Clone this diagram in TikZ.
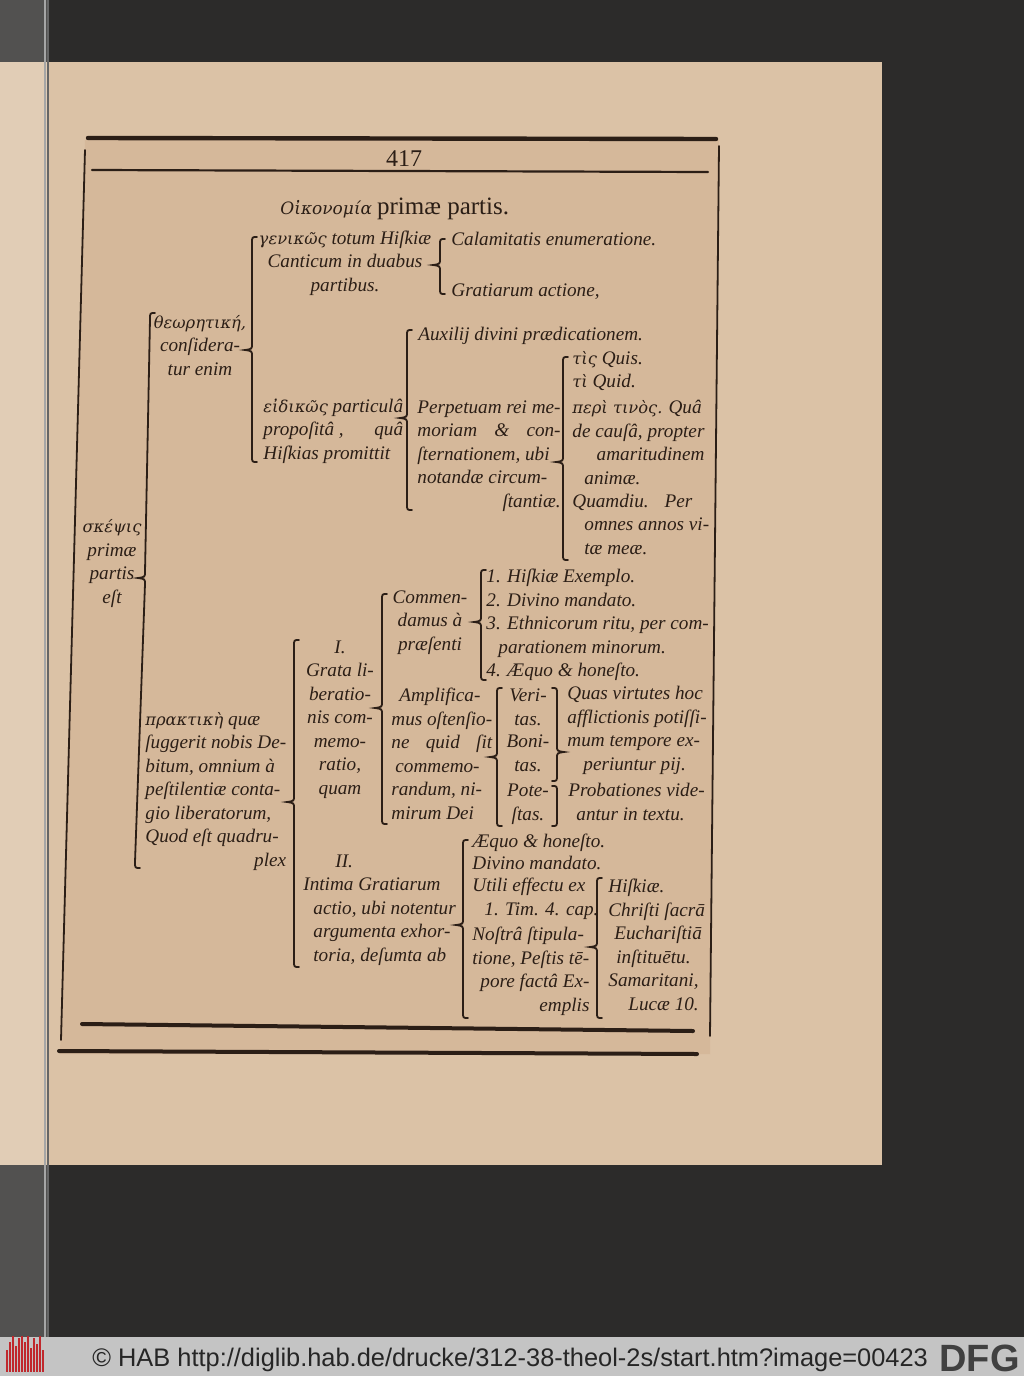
\documentclass[tikz,border=0pt]{standalone}
\usepackage{fontspec}
\setmainfont{Liberation Serif}
\newfontfamily\grk{DejaVu Serif}[Scale=0.85]
\newfontfamily\footsans{Liberation Sans}

\definecolor{inkc}{HTML}{2B1E16}
\definecolor{pagec}{HTML}{DBC2A6}
\definecolor{pagein}{HTML}{D3B596}
\definecolor{bgc}{HTML}{2C2B2A}
\definecolor{barc}{HTML}{C4C4C4}
\definecolor{habc}{HTML}{C0282D}
\definecolor{dfgc}{HTML}{404040}

% multi-line nodes sit on the baseline of their last line
\tikzset{
  ink/.style={draw=inkc, line width=0.9pt, line cap=round},
  lbl/.style={font=\fontsize{9.6}{11.75}\selectfont\itshape, text=inkc, inner sep=0pt, anchor=base west, align=left},
  clbl/.style={lbl, anchor=base, align=center}
}

% curly brace, tip to the left: x, top, tip, bottom
\newcommand{\lbrc}[4]{%
  \draw[ink] (#1+5,#2) .. controls (#1,#2) .. (#1,#2+6) -- (#1,#3-6)
    .. controls (#1,#3-1) .. (#1-7,#3) .. controls (#1,#3+1) .. (#1,#3+6)
    -- (#1,#4-6) .. controls (#1,#4) .. (#1+5,#4);}
% curly brace, tip to the right
\newcommand{\rbrc}[4]{%
  \draw[ink] (#1-5,#2) .. controls (#1,#2) .. (#1,#2+6) -- (#1,#3-6)
    .. controls (#1,#3-1) .. (#1+7,#3) .. controls (#1,#3+1) .. (#1,#3+6)
    -- (#1,#4-6) .. controls (#1,#4) .. (#1-5,#4);}
% plain bracket, open to the left
\newcommand{\rbkt}[3]{%
  \draw[ink] (#1-5,#2) .. controls (#1,#2) .. (#1,#2+6) -- (#1,#3-6)
    .. controls (#1,#3) .. (#1-5,#3);}

\begin{document}
\begin{tikzpicture}[x=0.5pt,y=-0.5pt]
\useasboundingbox (0,0) rectangle (1024,1376);

% scan surroundings
\fill[bgc] (0,0) rectangle (1024,1337);
\fill[pagec] (0,62) rectangle (882,1165);
\fill[pagein, opacity=0.7] (85,140) -- (719,140) -- (710,1054) -- (60,1054) -- cycle;
\fill[white, opacity=0.18] (0,0) rectangle (47,1337);
\draw[gray!70, line width=1pt] (45,0) -- (45,1337);
\draw[black!60, line width=0.6pt] (48,0) -- (48,1337);
\fill[barc] (0,1337) rectangle (1024,1376);

% printed frame
\draw[ink, line width=2.2pt] (88,138) -- (716,139);
\draw[ink, line width=1.1pt] (92,170) -- (708,172);
\draw[ink] (85,150) -- (61,1040);
\draw[ink] (719,146) -- (710,1036);
\draw[ink, line width=2pt] (82,1024) -- (693,1031);
\draw[ink, line width=2pt] (59,1051) -- (697,1054);

\node[inner sep=0pt, anchor=base, text=inkc, font=\fontsize{12}{12}\selectfont] (pg) at (404,166) {417};
\node[inner sep=0pt, anchor=base west, text=inkc] (title) at (280,214)
  {{\fontsize{10}{10}\selectfont\grk\itshape Οἰκονομία} {\fontsize{12.5}{12.5}\selectfont primæ partis.}};

% first level
\node[clbl] (sk) at (112,603) {{\grk σκέψις}\\primæ\\partis\\eſt};
\draw[ink] (155,313) .. controls (150,313) .. (150,319) -- (145,572)
  .. controls (145,577) .. (138,578) .. controls (145,579) .. (145,584)
  -- (135,862) .. controls (135,868) .. (140,868);

% theoretica
\node[clbl] (theo) at (200,375) {{\grk θεωρητική,}\\conſidera-\\tur enim};
\lbrc{252}{237}{350}{462}
\node[clbl] (gen) at (345,291) {{\grk γενικῶς} totum Hiſkiæ\\Canticum in duabus\\partibus.};
\lbrc{440}{239}{265}{294}
\node[lbl] (cal) at (451,245) {Calamitatis enumeratione.};
\node[lbl] (grat) at (451,296) {Gratiarum actione,};

\node[lbl] (eid) at (263,459) {{\grk εἰδικῶς} particulâ\\propoſitâ ,\hfill quâ\\Hiſkias promittit};
\lbrc{407}{330}{418}{510}
\node[lbl] (aux) at (418,340) {Auxilij divini prædicationem.};
\node[lbl] (perp) at (417,507) {Perpetuam rei me-\\moriam\hfill \&\hfill con-\\ſternationem, ubi\\notandæ circum-\\\hfill ſtantiæ.\hfill};
\lbrc{563}{357}{462}{560}
\node[lbl] (quis) at (572,364) {{\grk τὶς} Quis.};
\node[lbl] (quid) at (572,387) {{\grk τὶ} Quid.};
\node[lbl] (peri) at (572,484) {{\grk περὶ τινὸς.}\hspace{3pt}\hfill Quâ\\de cauſâ, propter\\\hfill amaritudinem\hfill\\\hspace*{6pt}animæ.};
\node[lbl] (quam) at (572,554) {Quamdiu.\hspace{8pt}\hfill Per\\\hspace*{6pt}omnes annos vi-\\\hspace*{6pt}tæ meæ.};

% practica
\node[lbl] (prak) at (145,866) {{\grk πρακτικὴ} quæ\\ſuggerit nobis De-\\bitum, omnium à\\peſtilentiæ conta-\\gio liberatorum,\\Quod eſt quadru-\\\hfill plex\hfill};
\lbrc{294}{640}{802}{967}

\node[clbl] (gl) at (340,794) {I.\\Grata li-\\beratio-\\nis com-\\memo-\\ratio,\\quam};
\lbrc{382}{594}{708}{824}
\node[clbl] (com) at (430,650) {Commen-\\damus à\\præſenti};
\lbrc{481}{570}{622}{680}
\node[lbl] (c1) at (486,582) {1. Hiſkiæ Exemplo.};
\node[lbl] (c2) at (486,606) {2. Divino mandato.};
\node[lbl] (c3) at (486,653) {3. Ethnicorum ritu, per com-\\\hspace*{6pt}parationem minorum.};
\node[lbl] (c4) at (486,676) {4. Æquo \& honeſto.};

\node[lbl] (amp) at (391,819) {\hspace*{4pt}Amplifica-\\mus oſtenſio-\\ne\hfill quid\hfill ſit\\\hspace*{2pt}commemo-\\randum, ni-\\mirum Dei};
\lbrc{497}{688}{757}{826}
\node[clbl] (ver) at (528,725) {Veri-\\tas.};
\node[clbl] (bon) at (528,771) {Boni-\\tas.};
\node[clbl] (pot) at (528,820) {Pote-\\ſtas.};
\rbrc{557}{688}{752}{781}
\rbkt{557}{786}{826}
\node[lbl] (quas) at (567,770) {Quas virtutes hoc\\afflictionis potiſſi-\\mum tempore ex-\\\hspace*{8pt}periuntur pij.};
\node[lbl] (prob) at (568,820) {Probationes vide-\\\hspace*{4pt}antur in textu.};

\node[lbl] (ii) at (303,961) {\hspace*{16pt}II.\\Intima Gratiarum\\\hspace*{5pt}actio, ubi notentur\\\hspace*{5pt}argumenta exhor-\\\hspace*{5pt}toria, deſumta ab};
\lbrc{463}{840}{925}{1018}
\node[lbl] (aeq) at (472,847) {Æquo \& honeſto.};
\node[lbl] (div) at (472,869) {Divino mandato.};
\node[lbl] (uti) at (472,915) {Utili effectu ex\\\hspace*{6pt}1. Tim. 4. cap.};
\node[lbl] (nos) at (472,1011) {Noſtrâ ſtipula-\\tione, Peſtis tē-\\\hspace*{4pt}pore factâ Ex-\\\hfill emplis\hfill};
\lbrc{597}{878}{947}{1018}
\node[lbl] (hisk) at (608,892) {Hiſkiæ.};
\node[lbl] (chr) at (608,963) {Chriſti ſacrā\\\hspace*{3pt}Euchariſtiā\\\hspace*{4pt}inſtituētu.};
\node[lbl] (sam) at (608,1010) {Samaritani,\\\hspace*{10pt}Lucæ 10.};

% footer
\foreach \i/\h in {7/22,10/30,13/36,16/26,19/34,22/36,25/30,28/36,31/24,34/34,37/28,40/36,43/22}
  \draw[habc, line width=1.1pt] (\i,1372-\h) -- (\i,1372);
\node[inner sep=0pt, anchor=base west, font=\footsans\fontsize{12.7}{12.7}\selectfont, text=black!85] (copy) at (92,1366)
  {© HAB http://diglib.hab.de/drucke/312-38-theol-2s/start.htm?image=00423};
\node[inner sep=0pt, anchor=base east, font=\footsans\bfseries\fontsize{19}{19}\selectfont, text=dfgc] (dfg) at (1020,1371) {DFG};
\end{tikzpicture}
\end{document}
